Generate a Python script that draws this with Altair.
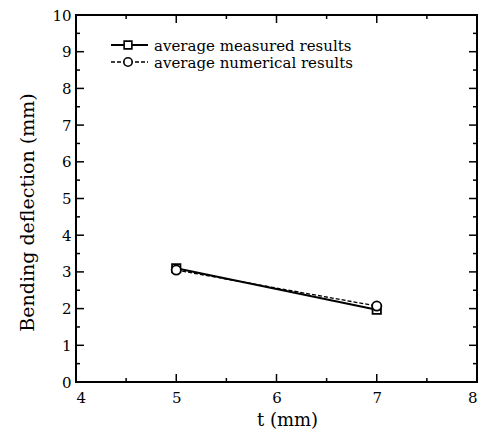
import altair as alt
import pandas as pd

# ---- data ----
t_vals = [5, 7]
measured = [3.1, 1.97]
numerical = [3.05, 2.07]
series_names = ["average measured results", "average numerical results"]

x_major = [4, 5, 6, 7, 8]
x_minor = [4.5, 5.5, 6.5, 7.5]
y_major = [0, 1, 2, 3, 4, 5, 6, 7, 8, 9, 10]
y_minor = [0.5, 1.5, 2.5, 3.5, 4.5, 5.5, 6.5, 7.5, 8.5, 9.5]

W, H = 401, 367
FONT = "DejaVu Serif"

df_meas = pd.DataFrame({"t": t_vals, "d": measured})
df_num = pd.DataFrame({"t": t_vals, "d": numerical})

xs = alt.Scale(domain=[4, 8], nice=False, zero=False)
ys = alt.Scale(domain=[0, 10], nice=False)

x_axis = alt.Axis(values=x_major, title="t (mm)", ticks=False, domain=False, grid=False,
                  labelFont=FONT, labelFontSize=15, labelColor="black", labelPadding=8,
                  titleFont=FONT, titleFontSize=18, titleFontWeight="normal", titleColor="black",
                  titlePadding=6, titleX=211, format="d")
y_axis = alt.Axis(values=y_major, title="Bending deflection (mm)", ticks=False, domain=False, grid=False,
                  labelFont=FONT, labelFontSize=15, labelColor="black", labelPadding=5,
                  titleFont=FONT, titleFontSize=19, titleFontWeight="normal", titleColor="black",
                  titlePadding=14, titleY=197, format="d")


def X(field):
    return alt.X(field, scale=xs, axis=x_axis)


def Y(field):
    return alt.Y(field, scale=ys, axis=y_axis)


line_meas = alt.Chart(df_meas).mark_line(color="black", strokeWidth=2).encode(
    x=X("t:Q"), y=Y("d:Q"))
line_num = alt.Chart(df_num).mark_line(color="black", strokeWidth=1.3, strokeDash=[4, 2]).encode(
    x=X("t:Q"), y=Y("d:Q"))
pts_meas = alt.Chart(df_meas).mark_point(shape="square", size=70, filled=True, fill="white",
                                         stroke="black", strokeWidth=1.8, opacity=1).encode(
    x=X("t:Q"), y=Y("d:Q"))
pts_num = alt.Chart(df_num).mark_point(shape="circle", size=85, filled=True, fill="white",
                                       stroke="black", strokeWidth=1.8, opacity=1).encode(
    x=X("t:Q"), y=Y("d:Q"))


def yticks(vals, length):
    d = pd.DataFrame({"v": vals})
    left = alt.Chart(d).mark_rule(color="black", strokeWidth=1.5).encode(
        y=Y("v:Q"), x=alt.value(0), x2=alt.value(length))
    right = alt.Chart(d).mark_rule(color="black", strokeWidth=1.5).encode(
        y=Y("v:Q"), x=alt.value(W), x2=alt.value(W - length))
    return [left, right]


def xticks(vals, length):
    d = pd.DataFrame({"v": vals})
    bottom = alt.Chart(d).mark_rule(color="black", strokeWidth=1.5).encode(
        x=X("v:Q"), y=alt.value(H), y2=alt.value(H - length))
    top = alt.Chart(d).mark_rule(color="black", strokeWidth=1.5).encode(
        x=X("v:Q"), y=alt.value(0), y2=alt.value(length))
    return [bottom, top]


ticks = yticks(y_major, 8) + yticks(y_minor, 4) + xticks(x_major, 8) + xticks(x_minor, 4)

# ---- manual legend ----
leg = []
one = pd.DataFrame({"label": [series_names[0]]})
two = pd.DataFrame({"label": [series_names[1]]})
leg.append(alt.Chart(one).mark_rule(color="black", strokeWidth=2).encode(
    x=alt.value(35), x2=alt.value(72), y=alt.value(30)))
leg.append(alt.Chart(one).mark_point(shape="square", size=60, filled=True, fill="white",
                                     stroke="black", strokeWidth=1.6, opacity=1).encode(
    x=alt.value(52), y=alt.value(30)))
leg.append(alt.Chart(one).mark_text(align="left", baseline="middle", font=FONT, fontSize=15,
                                    color="black").encode(
    x=alt.value(78), y=alt.value(31), text="label:N"))
leg.append(alt.Chart(two).mark_rule(color="black", strokeWidth=1.3, strokeDash=[4, 2]).encode(
    x=alt.value(35), x2=alt.value(72), y=alt.value(47)))
leg.append(alt.Chart(two).mark_point(shape="circle", size=70, filled=True, fill="white",
                                     stroke="black", strokeWidth=1.6, opacity=1).encode(
    x=alt.value(52), y=alt.value(47)))
leg.append(alt.Chart(two).mark_text(align="left", baseline="middle", font=FONT, fontSize=15,
                                    color="black").encode(
    x=alt.value(78), y=alt.value(48), text="label:N"))

chart = alt.layer(line_meas, line_num, pts_meas, pts_num, *ticks, *leg).properties(
    width=W, height=H, background="white",
    padding={"left": 10, "top": 0, "right": 0, "bottom": 0}
).configure_view(stroke="black", strokeWidth=2)

chart.save("out.html", embed_options={"renderer": "svg", "actions": False})
